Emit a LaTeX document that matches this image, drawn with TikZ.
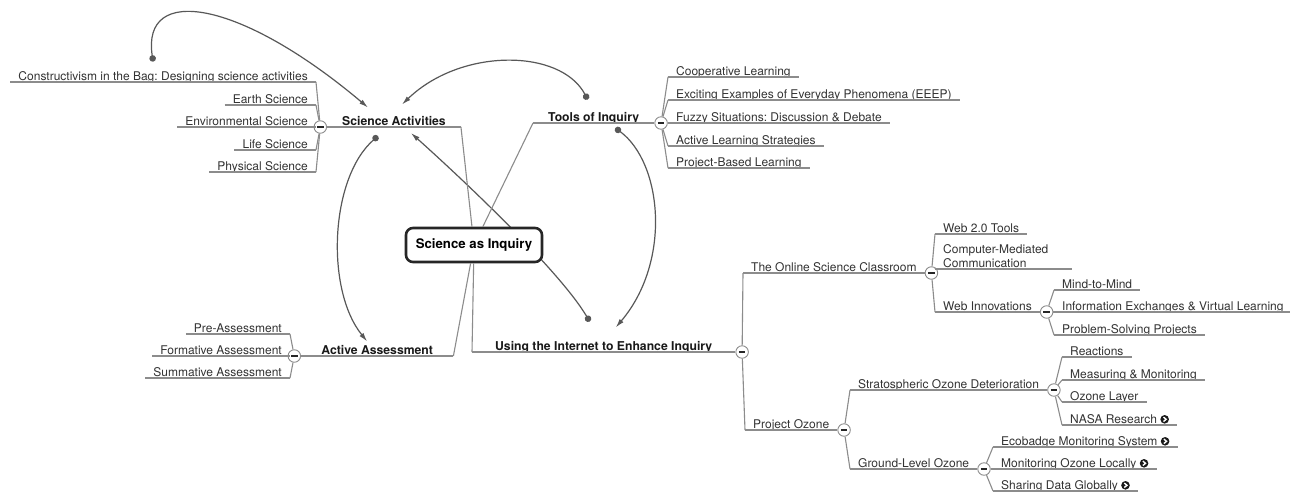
\documentclass[tikz,border=0pt]{standalone}
\usepackage{fontspec}
\setmainfont{TeX Gyre Heros}
\usetikzlibrary{arrows.meta, positioning, backgrounds}
\frenchspacing

\definecolor{grisrama}{HTML}{8C8C8C}
\definecolor{grisrel}{HTML}{585858}
\definecolor{gristexto}{HTML}{333333}

% icono de enlace: circulo negro con flecha blanca
\newcommand{\enlace}{\tikz[baseline=-4pt, x=1pt, y=1pt]{\fill[black!90] (0,0) circle (4.3); \draw[white, line width=1.4pt] (-1.2,-2.2) -- (1.5,0) -- (-1.2,2.2);}}

\begin{document}
\begin{tikzpicture}[x=1pt, y=-1pt, >={Latex[length=9pt,width=5pt]},
    tema/.style={anchor=south west, inner xsep=8pt, inner ysep=1.5pt, text depth=0pt, text=gristexto, font=\fontsize{12}{13.5}\selectfont},
    temaizq/.style={tema, anchor=south east},
    principal/.style={tema, inner xsep=15pt, text=black!90, font=\fontsize{12.2}{14}\selectfont\bfseries},
    central/.style={draw=black!85, line width=2.6pt, rounded corners=7pt, fill=white, minimum width=136pt, minimum height=34pt, font=\fontsize{13.2}{15}\selectfont\bfseries},
    plegar/.style={circle, draw=grisrama, fill=white, line width=0.9pt, minimum size=12.5pt, inner sep=0pt, path picture={\draw[black!85, line width=1.3pt] ([xshift=-3.2pt]path picture bounding box.center) -- ([xshift=3.2pt]path picture bounding box.center);}},
    rama/.style={draw=grisrama, line width=1.1pt},
    relacion/.style={draw=grisrel, line width=1.2pt, {Circle[length=6.5pt]}->}]
    \useasboundingbox (0,0) rectangle (1290,491);

    % Nodo central
    \node[central] (inquiry) at (474,245) {Science as Inquiry};

    % Temas principales
    \node[principal] (actividades) at (327,127) {Science Activities};
    \node[principal] (herramientas) at (533,123) {Tools of Inquiry};
    \node[principal, minimum width=152pt] (evaluacion) at (301,356) {Active Assessment};
    \node[principal, minimum width=263pt] (internet) at (472,352) {Using the Internet to Enhance Inquiry};

    % Science Activities
    \node[temaizq] (constructivismo) at (316,82) {Constructivism in the Bag: Designing science activities};
    \node[temaizq] (tierra) at (316,105) {Earth Science};
    \node[temaizq] (ambiental) at (316,127) {Environmental Science};
    \node[temaizq] (vida) at (316,150) {Life Science};
    \node[temaizq] (fisica) at (316,172) {Physical Science};

    % Tools of Inquiry
    \node[tema] (cooperativo) at (668,77) {Cooperative Learning};
    \node[tema] (eeep) at (668,100) {Exciting Examples of Everyday Phenomena (EEEP)};
    \node[tema] (fuzzy) at (668,123) {Fuzzy Situations: Discussion \& Debate};
    \node[tema] (activo) at (668,146) {Active Learning Strategies};
    \node[tema] (proyectos) at (668,168) {Project-Based Learning};

    % Active Assessment
    \node[temaizq] (pre) at (290,334) {Pre-Assessment};
    \node[temaizq] (formativa) at (290,356) {Formative Assessment};
    \node[temaizq] (sumativa) at (290,378) {Summative Assessment};

    % Using the Internet to Enhance Inquiry
    \node[tema] (aula) at (743,273) {The Online Science Classroom};
    \node[tema] (webdos) at (935,234) {Web 2.0 Tools};
    \node[tema] (cmc) at (935,269) {\begin{tabular}[b]{@{}p{121pt}@{}}Computer-Mediated\\Communication\end{tabular}};
    \node[tema] (innovaciones) at (935,312) {Web Innovations};
    \node[tema] (mente) at (1054,290) {Mind-to-Mind};
    \node[tema] (intercambios) at (1054,312) {Information Exchanges \& Virtual Learning};
    \node[tema] (problemas) at (1054,335) {Problem-Solving Projects};
    \node[tema] (ozono) at (745,430) {Project Ozone};
    \node[tema] (estrato) at (850,390) {Stratospheric Ozone Deterioration};
    \node[tema] (reacciones) at (1062,357) {Reactions};
    \node[tema] (medicion) at (1062,380) {Measuring \& Monitoring};
    \node[tema] (capa) at (1062,402) {Ozone Layer};
    \node[tema] (nasa) at (1062,425) {NASA Research \enlace};
    \node[tema] (superficie) at (850,469) {Ground-Level Ozone};
    \node[tema] (ecobadge) at (993,447) {Ecobadge Monitoring System \enlace};
    \node[tema] (local) at (993,469) {Monitoring Ozone Locally \enlace};
    \node[tema] (global) at (993,491) {Sharing Data Globally \enlace};

    % Botones de plegado
    \node[plegar, left=0pt of actividades.south west] (pactividades) {};
    \node[plegar, right=0pt of herramientas.south east] (pherramientas) {};
    \node[plegar, left=0pt of evaluacion.south west] (pevaluacion) {};
    \node[plegar, right=0pt of internet.south east] (pinternet) {};
    \node[plegar, right=0pt of aula.south east] (paula) {};
    \node[plegar, right=0pt of innovaciones.south east] (pinnovaciones) {};
    \node[plegar, right=0pt of ozono.south east] (pozono) {};
    \node[plegar, right=0pt of estrato.south east] (pestrato) {};
    \node[plegar, right=0pt of superficie.south east] (psuperficie) {};

    % Subrayados
    \foreach \n in {actividades,herramientas,evaluacion,internet,constructivismo,tierra,ambiental,vida,fisica,cooperativo,eeep,fuzzy,activo,proyectos,pre,formativa,sumativa,aula,webdos,cmc,innovaciones,mente,intercambios,problemas,ozono,estrato,reacciones,medicion,capa,nasa,superficie,ecobadge,local,global}
        \draw[rama] (\n.south west) -- (\n.south east);

    % Ramas
    \draw[rama] (actividades.south east) -- (inquiry);
    \draw[rama] (herramientas.south west) -- (inquiry);
    \draw[rama] (evaluacion.south east) -- (inquiry);
    \draw[rama] (internet.south west) -- (inquiry);
    \foreach \n in {constructivismo,tierra,ambiental,vida,fisica}
        \draw[rama] (pactividades) -- (\n.south east);
    \foreach \n in {cooperativo,eeep,fuzzy,activo,proyectos}
        \draw[rama] (pherramientas) -- (\n.south west);
    \foreach \n in {pre,formativa,sumativa}
        \draw[rama] (pevaluacion) -- (\n.south east);
    \foreach \n in {aula,ozono}
        \draw[rama] (pinternet) -- (\n.south west);
    \foreach \n in {webdos,cmc,innovaciones}
        \draw[rama] (paula) -- (\n.south west);
    \foreach \n in {mente,intercambios,problemas}
        \draw[rama] (pinnovaciones) -- (\n.south west);
    \foreach \n in {estrato,superficie}
        \draw[rama] (pozono) -- (\n.south west);
    \foreach \n in {reacciones,medicion,capa,nasa}
        \draw[rama] (pestrato) -- (\n.south west);
    \foreach \n in {ecobadge,local,global}
        \draw[rama] (psuperficie) -- (\n.south west);

    % Fondo y relaciones entre temas
    \begin{pgfonlayer}{background}
    \fill[white] (0,0) rectangle (1290,491);
    \draw[relacion] ([xshift=-10pt,yshift=8pt]constructivismo.north) .. controls +(-12,-78) and +(-128,-108) .. ([xshift=41pt,yshift=7pt]actividades.north west);
    \draw[relacion] ([xshift=-6pt,yshift=11pt]herramientas.north) .. controls +(-27,-51) and +(59,-57) .. ([xshift=8pt,yshift=10pt]actividades.north);
    \draw[relacion] ([xshift=-16pt,yshift=-9pt]actividades.south) .. controls +(-48,42) and +(-42,-52) .. ([xshift=-10pt,yshift=2pt]evaluacion.north);
    \draw[relacion] ([xshift=-39pt,yshift=-5pt]herramientas.south east) .. controls +(47,35) and +(56,-66) .. ([xshift=12pt,yshift=12pt]internet.north);
    \draw[relacion] ([xshift=-14pt,yshift=18pt]internet.north) .. controls +(-29,-49) and +(58,52) .. ([xshift=-50pt,yshift=-6pt]actividades.south east);
    \end{pgfonlayer}
\end{tikzpicture}
\end{document}
